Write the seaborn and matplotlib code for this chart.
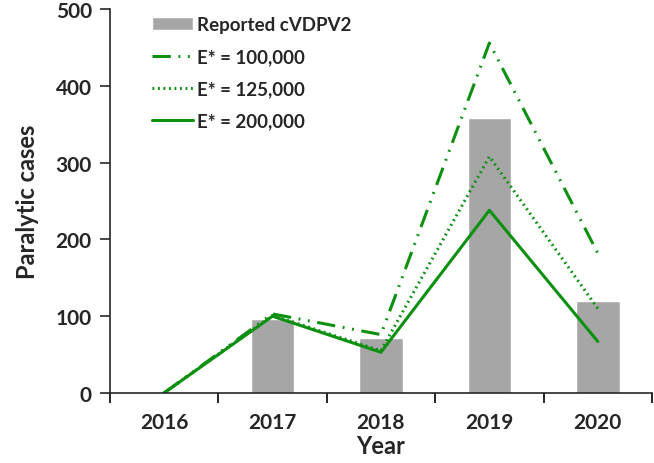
import pandas as pd
import matplotlib.pyplot as plt
import seaborn as sns

# 數據
years = ['2016', '2017', '2018', '2019', '2020']
reported = [1, 96, 71, 358, 120]
e_100k = [0, 103, 76, 456, 182]
e_125k = [0, 101, 55, 308, 110]
e_200k = [0, 100, 53, 238, 67]

sns.set_style('ticks')
plt.rcParams['font.family'] = ['Lato', 'DejaVu Sans']
plt.rcParams['font.weight'] = 'bold'

df_bar = pd.DataFrame({'Year': years, 'cases': reported})

fig = plt.figure(figsize=(6.54, 4.64), dpi=100)
ax = fig.add_axes([0.168, 0.151, 0.829, 0.827])

sns.barplot(data=df_bar, x='Year', y='cases', color='#a6a6a6', width=0.4,
            saturation=1, ax=ax, label='Reported cVDPV2')

green = '#0c9010'
series = [
    ('E* = 100,000', e_100k, (0, (6, 2.5, 0.6, 2.5, 0.6, 2.5))),
    ('E* = 125,000', e_125k, (0, (0.6, 1.2))),
    ('E* = 200,000', e_200k, '-'),
]
for name, vals, ls in series:
    d = pd.DataFrame({'Year': years, 'cases': vals})
    sns.lineplot(data=d, x='Year', y='cases', color=green, linewidth=2.2,
                 linestyle=ls, ax=ax, label=name, sort=False)

ax.set_xlim(-0.5, 4.5)
ax.set_ylim(0, 500)
ax.set_yticks([0, 100, 200, 300, 400, 500])
ax.set_xticks(range(5))
ax.set_xticklabels(years)
ax.set_xticks([-0.5, 0.5, 1.5, 2.5, 3.5, 4.5], minor=True)
ax.tick_params(axis='x', which='major', length=0, pad=14, labelsize=15)
ax.tick_params(axis='x', which='minor', length=7, width=1.2, color='black')
ax.tick_params(axis='y', length=7, width=1.2, labelsize=15, pad=6)
for lab in ax.get_xticklabels() + ax.get_yticklabels():
    lab.set_fontweight('bold')

sns.despine(ax=ax)
ax.spines['left'].set_linewidth(1.2)
ax.spines['bottom'].set_linewidth(1.2)

ax.set_xlabel('Year', fontsize=17, fontweight='bold', labelpad=1)
ax.set_ylabel('Paralytic cases', fontsize=17, fontweight='bold', labelpad=12)

handles, labels = ax.get_legend_handles_labels()
order = [labels.index('Reported cVDPV2')] + [i for i, l in enumerate(labels) if l != 'Reported cVDPV2']
leg = ax.legend([handles[i] for i in order], [labels[i] for i in order],
                loc='upper left', bbox_to_anchor=(0.077, 0.982), frameon=False,
                fontsize=13.5, handlelength=2.2, handletextpad=0.2,
                labelspacing=0.8, borderpad=0, borderaxespad=0)
for t in leg.get_texts():
    t.set_fontweight('bold')

fig.savefig('out.png', dpi=100)
